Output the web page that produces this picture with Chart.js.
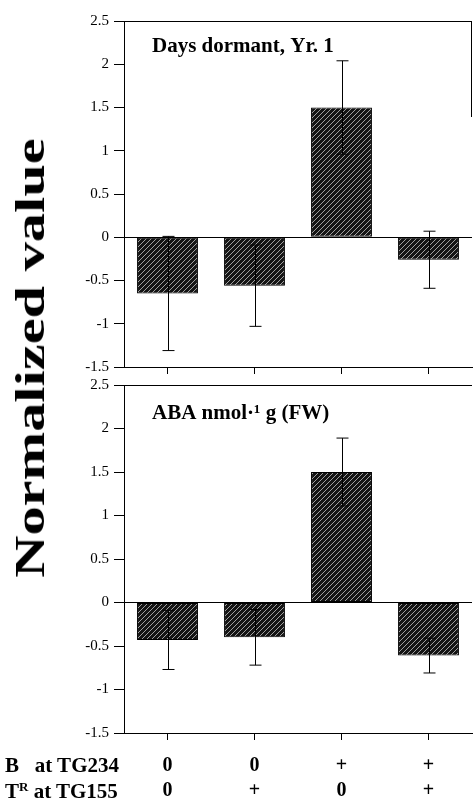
<!DOCTYPE html>
<html>
<head>
<meta charset="utf-8">
<script src="https://cdn.jsdelivr.net/npm/chart.js@4"></script>
<style>
    body { margin: 0; background: #fff; width: 473px; height: 799px; overflow: hidden; position: relative; }
    .panel { position: absolute; left: 0; }
    #ytitle {
        position: absolute; left: 30px; top: 358px;
        font: bold 42px "Liberation Serif", serif; white-space: nowrap; line-height: 1;
        transform: translate(-50%, -50%) rotate(-90deg) scaleX(1.39);
    }
    .rowlabel { position: absolute; left: 5px; font: bold 21px "Liberation Serif", serif; white-space: pre; line-height: 1; }
    .rowlabel sup { font-size: 13px; vertical-align: 7px; }
</style>
</head>
<body>
<div class="panel" style="top:0"><canvas id="chart-top" width="473" height="381"></canvas></div>
<div class="panel" style="top:371px"><canvas id="chart-bottom" width="473" height="428"></canvas></div>
<div id="ytitle">Normalized value</div>
<div class="rowlabel" style="top:755px">B   at TG234</div>
<div class="rowlabel" style="top:780px">T<sup>R</sup> at TG155</div>
<script>
// Genotype classes along the x axis
const markerB = ['0', '0', '+', '+'];
const markerT = ['0', '+', '0', '+'];

// Top panel: days dormant, year 1
const dormancy = [-0.65, -0.56, 1.50, -0.26];
const dormancyErr = [0.66, 0.47, 0.54, 0.33];

// Bottom panel: ABA content
const aba = [-0.43, -0.40, 1.50, -0.61];
const abaErr = [0.34, 0.32, 0.39, 0.20];

const yTicks = [-1.5, -1, -0.5, 0, 0.5, 1, 1.5, 2, 2.5];

const serif = '"Liberation Serif", "Times New Roman", serif';

function makeHatch() {
    const c = document.createElement('canvas');
    c.width = 5; c.height = 5;
    const g = c.getContext('2d');
    g.fillStyle = '#141414';
    g.fillRect(0, 0, 5, 5);
    g.strokeStyle = '#a0a0a0';
    g.lineWidth = 1;
    g.beginPath();
    g.moveTo(-1, 6); g.lineTo(6, -1);
    g.moveTo(-1, 1); g.lineTo(1, -1);
    g.moveTo(4, 6); g.lineTo(6, 4);
    g.stroke();
    return g.createPattern(c, 'repeat');
}

// draws error bars and the frame lines
const extras = {
    id: 'extras',
    afterDatasetsDraw(chart, args, opts) {
        const ctx = chart.ctx;
        const xs = chart.scales.x, ys = chart.scales.y;
        const vals = chart.data.datasets[0].data;
        ctx.save();
        ctx.strokeStyle = '#000';
        ctx.lineWidth = 1;
        vals.forEach((v, i) => {
            const x = Math.round(xs.getPixelForValue(i)) + 0.5;
            const hi = ys.getPixelForValue(v + opts.err[i]);
            const lo = ys.getPixelForValue(v - opts.err[i]);
            ctx.beginPath();
            ctx.moveTo(x, hi); ctx.lineTo(x, lo);
            ctx.moveTo(x - 6, hi); ctx.lineTo(x + 6, hi);
            ctx.moveTo(x - 6, lo); ctx.lineTo(x + 6, lo);
            ctx.stroke();
        });
        const a = chart.chartArea;
        ctx.beginPath();
        ctx.moveTo(a.left, a.top + 0.5); ctx.lineTo(a.right, a.top + 0.5);
        if (opts.rightFrame) {
            ctx.moveTo(a.right - 0.5, a.top); ctx.lineTo(a.right - 0.5, a.top + opts.rightFrame);
        }
        ctx.stroke();
        ctx.restore();
    }
};

function panel(canvasId, values, errs, title, opts) {
    const ctx = document.getElementById(canvasId).getContext('2d');
    return new Chart(ctx, {
        type: 'bar',
        data: {
            labels: markerB.map((b, i) => [b, markerT[i]]),
            datasets: [{
                data: values,
                backgroundColor: makeHatch(),
                borderColor: '#000',
                borderWidth: 1,
                borderSkipped: false,
                barPercentage: 0.7,
                categoryPercentage: 1
            }]
        },
        options: {
            responsive: false,
            animation: false,
            devicePixelRatio: 1,
            layout: { padding: { top: opts.padTop, right: 1, bottom: 0, left: 0 } },
            plugins: {
                legend: { display: false },
                tooltip: { enabled: false },
                extras: { err: errs, rightFrame: opts.rightFrame },
                subtitle: { display: false },
                title: { display: false }
            },
            scales: {
                x: {
                    offset: true,
                    grid: { offset: false, drawOnChartArea: false, color: '#000', tickLength: 7 },
                    border: { color: '#000', width: 1 },
                    ticks: {
                        display: opts.showLabels,
                        color: '#000',
                        padding: 13,
                        font: { family: serif, weight: 'bold', size: 20, lineHeight: 1.25 }
                    },
                    afterFit: s => { s.height = opts.xHeight; }
                },
                y: {
                    min: -1.5, max: 2.5,
                    afterBuildTicks: s => { s.ticks = yTicks.map(v => ({ value: v })); },
                    grid: {
                        color: c => c.tick && c.tick.value === 0 ? '#000' : 'rgba(0,0,0,0)',
                        tickColor: '#000',
                        tickLength: 10
                    },
                    border: { color: '#000', width: 1 },
                    ticks: {
                        color: '#000',
                        padding: 5,
                        font: { family: serif, size: 15 },
                        callback: v => String(v)
                    },
                    afterFit: s => { s.width = 124; }
                }
            }
        },
        plugins: [extras, {
            id: 'paneltitle',
            afterDraw(chart) {
                const c = chart.ctx;
                c.save();
                c.fillStyle = '#000';
                c.font = 'bold 21px ' + serif;
                c.textBaseline = 'alphabetic';
                c.fillText(title, 152, chart.chartArea.top + opts.titleY);
                c.restore();
            }
        }]
    });
}

panel('chart-top', dormancy, dormancyErr, 'Days dormant, Yr. 1',
    { padTop: 21, xHeight: 7, showLabels: false, rightFrame: 96, titleY: 31 });
panel('chart-bottom', aba, abaErr, 'ABA nmol\u00B7\u00B9 g (FW)',
    { padTop: 9, xHeight: 66, showLabels: true, rightFrame: 0, titleY: 34 });
</script>
</body>
</html>
